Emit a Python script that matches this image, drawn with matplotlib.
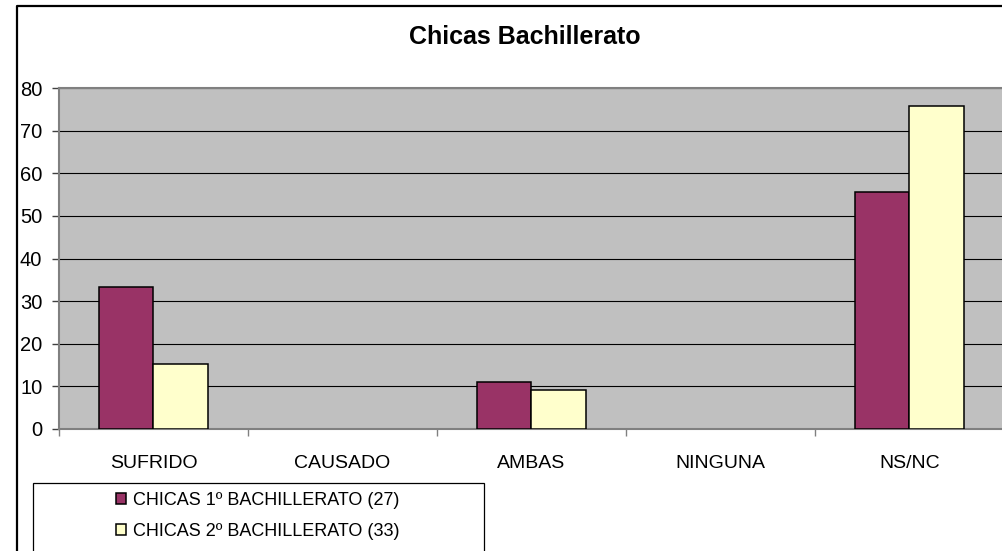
import matplotlib
matplotlib.use("Agg")
import matplotlib.pyplot as plt
from matplotlib.patches import Rectangle
from matplotlib.lines import Line2D
import numpy as np

categories = ["SUFRIDO", "CAUSADO", "AMBAS", "NINGUNA", "NS/NC"]
serie_1 = [33.3, 0, 11.1, 0, 55.6]
serie_2 = [15.2, 0, 9.1, 0, 75.8]
label_1 = "CHICAS 1º BACHILLERATO (27)"
label_2 = "CHICAS 2º BACHILLERATO (33)"
title = "Chicas Bachillerato"
yticks = [0, 10, 20, 30, 40, 50, 60, 70, 80]

plt.rcParams['font.family'] = ['Liberation Sans', 'DejaVu Sans']

W, H = 1003, 551
fig = plt.figure(figsize=(W / 100, H / 100), dpi=100)

def fx(p):
    return p / W

def fy(p):
    return 1 - p / H

ax_left, ax_right, ax_top, ax_bot = 59, 1004, 88, 429
ax = fig.add_axes([fx(ax_left), fy(ax_bot), fx(ax_right - ax_left), (ax_bot - ax_top) / H])
ax.set_facecolor("#C0C0C0")

x = np.arange(len(categories))
w = 0.29
lw1 = [1.1 if v > 0 else 0 for v in serie_1]
lw2 = [1.1 if v > 0 else 0 for v in serie_2]
b1 = ax.bar(x - w / 2, serie_1, w, color="#993366", edgecolor="black", linewidth=lw1, label=label_1, zorder=3)
b2 = ax.bar(x + w / 2, serie_2, w, color="#FFFFCC", edgecolor="black", linewidth=lw2, label=label_2, zorder=3)

ax.set_xlim(-0.5, len(categories) - 0.5)
ax.set_ylim(0, 80)
ax.set_yticks(yticks)
ax.set_yticklabels([str(v) for v in yticks], fontsize=14.5)
ax.yaxis.grid(True, color="black", linewidth=0.8, zorder=1)
ax.set_axisbelow(True)

# category boundaries as major ticks, labels as minor ticks
ax.set_xticks(np.arange(len(categories) + 1) - 0.5)
ax.set_xticklabels([])
ax.set_xticks(x, minor=True)
ax.set_xticklabels(categories, minor=True, fontsize=14)
ax.tick_params(axis="x", which="major", length=5, width=1, color="#808080", direction="out")
ax.tick_params(axis="x", which="minor", length=0, pad=19)
ax.tick_params(axis="y", length=5, width=1, color="#404040", pad=7)

for side in ["left", "bottom", "top"]:
    ax.spines[side].set_color("#808080")
    ax.spines[side].set_linewidth(1.5)
ax.spines["right"].set_visible(False)

fig.text(fx(525), fy(37), title, ha="center", va="center", fontsize=18, fontweight="bold")

# outer chart border (top and left visible)
fig.add_artist(Line2D([fx(17), fx(17), fx(1010)], [fy(560), fy(6), fy(6)],
                      color="black", linewidth=1.6, transform=fig.transFigure))

# legend frame
fig.add_artist(Rectangle((fx(33), fy(570)), fx(451), (570 - 483) / H,
                         facecolor="white", edgecolor="black", linewidth=0.9,
                         transform=fig.transFigure))

leg = fig.legend(handles=[b1, b2], labels=[label_1, label_2],
                 loc="upper left", bbox_to_anchor=(fx(116), fy(492)),
                 frameon=False, fontsize=13, handlelength=0.55, handleheight=0.55,
                 handletextpad=0.4, labelspacing=0.78, borderpad=0, borderaxespad=0)
leg.set_zorder(5)
for h in leg.legend_handles:
    h.set_linewidth(1.1)

fig.savefig("out.png", dpi=100)
